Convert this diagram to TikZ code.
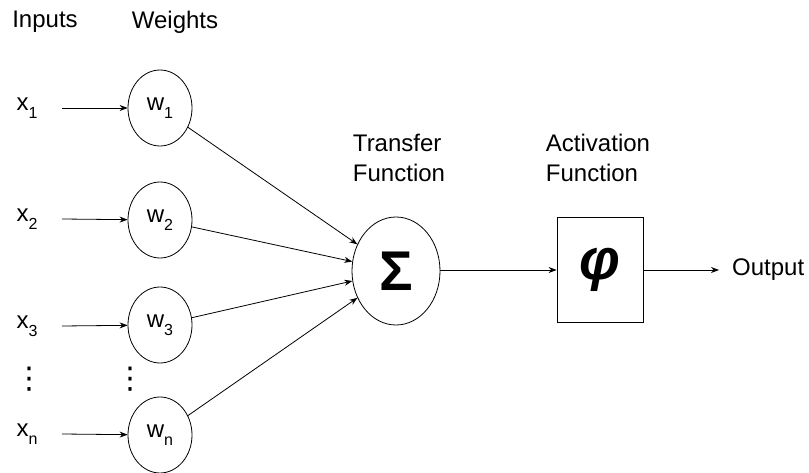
\documentclass[tikz,border=0pt]{standalone}
\usepackage{fontspec}
\setmainfont{Liberation Sans}
\newfontfamily\symfont{DejaVu Sans}
\usetikzlibrary{arrows.meta,shapes.geometric}
\newcommand{\sub}[2]{#1\raisebox{-0.6ex}{\fontsize{16}{16}\selectfont #2}}
\begin{document}
\begin{tikzpicture}[x=1pt,y=-1pt,
  every node/.style={font=\fontsize{24}{30}\selectfont},
  wnode/.style={draw,ellipse,minimum width=64pt,minimum height=76pt,inner sep=0pt,line width=0.8pt},
  conn/.style={line width=0.8pt,-{Stealth[length=8pt,width=6pt]}},
  lbl/.style={align=left,inner sep=0pt},
  dots/.style={inner sep=0pt,font=\symfont\fontsize{30}{30}\selectfont}]
\useasboundingbox (0,0) rectangle (809,473);
% column headings
\node[lbl] (hin) at (45,22) {Inputs};
\node[lbl] (hw) at (175,22) {Weights};
\node[lbl] (htf) at (399,158) {Transfer\\Function};
\node[lbl] (haf) at (598,158) {Activation\\Function};
% inputs
\node[lbl] (x1) at (27,108) {\sub{x}{1}};
\node[lbl] (x2) at (27,219) {\sub{x}{2}};
\node[lbl] (x3) at (27,326) {\sub{x}{3}};
\node[lbl] (xn) at (27,434) {\sub{x}{n}};
\coordinate (s1) at (62,108);
\coordinate (s2) at (62,219);
\coordinate (s3) at (62,326);
\coordinate (sn) at (62,434);
% weights
\node[wnode] (w1) at (160,108) {\sub{w}{1}};
\node[wnode] (w2) at (160,220) {\sub{w}{2}};
\node[wnode] (w3) at (160,325) {\sub{w}{3}};
\node[wnode] (wn) at (160,435) {\sub{w}{n}};
% vertical ellipses
\node[dots] (d1) at (30,379) {⋮};
\node[dots] (d2) at (130,379) {⋮};
% summation and activation
\node[draw,ellipse,minimum width=88pt,minimum height=108pt,inner sep=0pt,line width=0.8pt] (sum) at (396,271)
  {\fontsize{56}{56}\selectfont\bfseries Σ};
\node[draw,minimum width=86pt,minimum height=105pt,inner sep=0pt,line width=0.8pt] (act) at (600,270)
  {\fontsize{58}{58}\selectfont\bfseries\itshape φ};
\node[lbl,anchor=west] (out) at (732,270) {Output};
% connectors
\draw[conn] (s1) -- (w1);
\draw[conn] (s2) -- (w2);
\draw[conn] (s3) -- (w3);
\draw[conn] (sn) -- (wn);
\draw[conn] (w1) -- (sum);
\draw[conn] (w2) -- (sum);
\draw[conn] (w3) -- (sum);
\draw[conn] (wn) -- (sum);
\draw[conn] (sum.east |- act.west) -- (act.west);
\draw[conn,shorten >=13pt] (act.east) -- (out.west);
\end{tikzpicture}
\end{document}
